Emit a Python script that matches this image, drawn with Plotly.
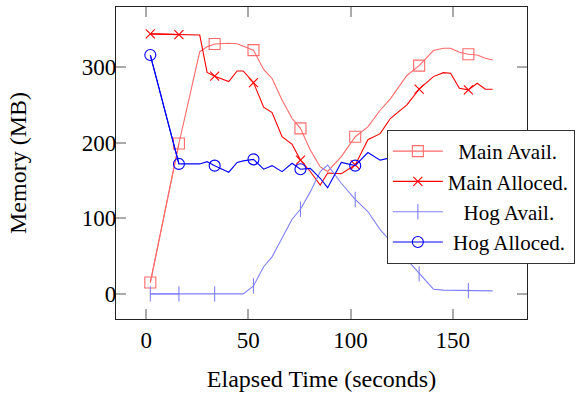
import plotly.graph_objects as go

# ---- data ----
time_s = [2, 16, 26.2, 29.8, 33.5, 40.4, 44.5, 47.5, 52.5, 57.5, 61.6, 66.5, 71.4, 75.5,
          80.3, 85.2, 88.8, 95.5, 102.3, 108.5, 114.5, 119.5, 127.6, 133.6, 140.6, 145.5,
          149, 153.3, 157.7, 162, 166, 169.6]

main_avail = [15, 199, 320.5, 327, 330.7, 331.6, 331, 328, 322.5, 297, 285, 256.6, 232, 219,
              190.5, 168, 162, 181.6, 208, 221, 243, 258, 289, 302, 322, 325,
              325, 319.7, 317, 316, 311.7, 309.5]

main_alloced = [344, 343, 342.5, 293, 288, 281, 295, 295, 279.5, 247, 240, 208, 198, 177,
                162, 144, 160, 159, 170.6, 204, 212, 232, 250, 271, 287.5, 292.7,
                292, 272, 270, 278.7, 270.8, 270.8]

hog_avail = [0, 0, 0, 0, 0, 0, 0, 0, 10.6, 36, 49, 73.7, 98.8, 112,
             135, 161.8, 170.6, 146.4, 125, 109, 85, 70, 45, 26.5, 6.2, 5,
             4.8, 4.6, 4.4, 4.2, 4, 4]

hog_alloced = [316, 172, 172, 175, 169.7, 161, 174, 176, 178, 165, 169.7, 161.8, 172.9, 165,
               166, 153, 140.6, 174, 169.7, 187, 177, 180, 178, 182, 180, 178,
               182, 180, 178, 180, 182, 180]

mark_idx = [0, 1, 4, 8, 13, 18, 23, 28]

NB = "\u00a0"
series = [
    ("Main Avail.", NB * 2 + "Main Avail.", main_avail, "#ff6a6a", "square-open", 11),
    ("Main Alloced.", "Main Alloced.", main_alloced, "#ff0000", "x-thin-open", 9),
    ("Hog Avail.", NB * 3 + "Hog Avail.", hog_avail, "#8080ff", "line-ns-open", 11),
    ("Hog Alloced.", NB * 1 + "Hog Alloced.", hog_alloced, "#0000ff", "circle-open", 11),
]

FONT = "Liberation Serif"

fig = go.Figure()
for name, label, vals, color, sym, ms in series:
    fig.add_trace(go.Scatter(
        x=time_s, y=vals, mode="lines", line=dict(color=color, width=1.1),
        showlegend=False, legendgroup=name, hoverinfo="skip"))
    mx = [time_s[i] if i in mark_idx else None for i in range(len(time_s))]
    my = [vals[i] if i in mark_idx else None for i in range(len(vals))]
    fig.add_trace(go.Scatter(
        x=mx, y=my, mode="lines+markers", name=label, legendgroup=name,
        connectgaps=False,
        line=dict(color=color, width=1.1),
        marker=dict(symbol=sym, size=ms, color=color,
                    line=dict(color=color, width=1.1))))

axis_common = dict(
    showgrid=False, zeroline=False, showline=True, linecolor="#222", linewidth=1.3,
    mirror="ticks", ticks="inside", ticklen=10, tickcolor="#aaaaaa", tickwidth=1.5,
    tickfont=dict(family=FONT, size=23, color="black"), automargin=False,
)

fig.update_layout(
    width=578, height=394,
    margin=dict(l=116, r=51, t=7, b=75, autoexpand=False),
    paper_bgcolor="white", plot_bgcolor="white",
    font=dict(family=FONT, color="black"),
    xaxis=dict(range=[-14.8, 186.4], tickvals=[0, 50, 100, 150],
               title=dict(text="Elapsed Time (seconds)", font=dict(family=FONT, size=24), standoff=18),
               **axis_common),
    yaxis=dict(range=[-33.2, 379.6], tickvals=[0, 100, 200, 300], ticklabelstandoff=-6,
               title=dict(text="Memory (MB)", font=dict(family=FONT, size=24), standoff=48),
               **axis_common),
    legend=dict(x=0.659, y=0.606, xanchor="left", yanchor="top",
                bgcolor="white", bordercolor="#333", borderwidth=1,
                font=dict(family=FONT, size=21), tracegroupgap=0, itemwidth=50),
    showlegend=True,
)

fig.write_html("out.html", config={"displayModeBar": False},
               post_script="document.body.style.margin='0';")
